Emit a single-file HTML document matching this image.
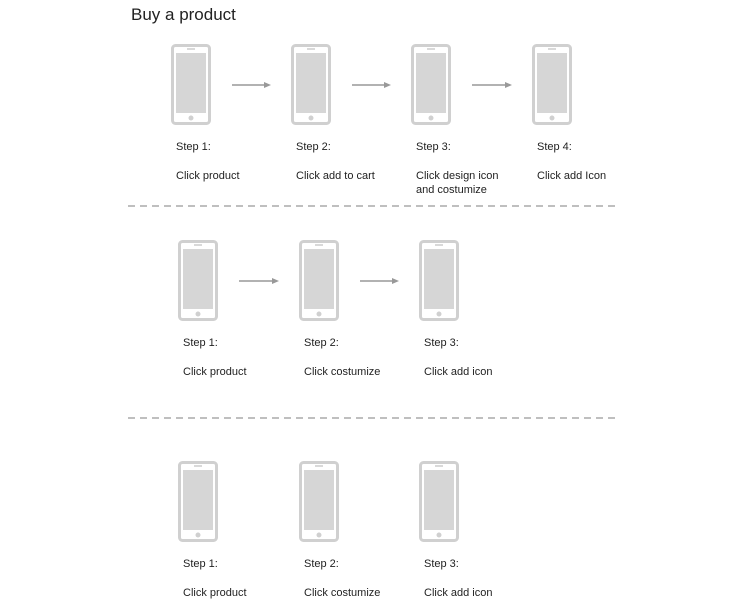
<!DOCTYPE html>
<html><head><meta charset="utf-8"><style>
html,body{margin:0;padding:0;background:#fff;width:750px;height:603px;overflow:hidden}
svg{display:block}
text{font-family:"Liberation Sans","DejaVu Sans",sans-serif;fill:#222}
</style></head><body>
<svg width="750" height="603" viewBox="0 0 750 603">
<text x="131" y="20" font-size="17">Buy a product</text>
<line x1="128" y1="206" x2="615" y2="206" stroke="#999" stroke-width="1.2" stroke-dasharray="7,5"/>
<line x1="128" y1="418" x2="615" y2="418" stroke="#999" stroke-width="1.2" stroke-dasharray="7,5"/>
<g id="g"></g>
</svg>
<script>
const rows=[
 {y:44,phones:[171,291,411,532],arrows:true,labels:[["Step 1:","Click product"],["Step 2:","Click add to cart"],["Step 3:","Click design icon","and costumize"],["Step 4:","Click add Icon"]]},
 {y:240,phones:[178,299,419],arrows:true,labels:[["Step 1:","Click product"],["Step 2:","Click costumize"],["Step 3:","Click add icon"]]},
 {y:461,phones:[178,299,419],arrows:false,labels:[["Step 1:","Click product"],["Step 2:","Click costumize"],["Step 3:","Click add icon"]]}
];
const NS="http://www.w3.org/2000/svg",g=document.getElementById('g');
function mk(t,a,p){const e=document.createElementNS(NS,t);for(const k in a)e.setAttribute(k,a[k]);(p||g).appendChild(e);return e;}
rows.forEach((r,ri)=>{
 r.phones.forEach((x,i)=>{
  const ph=mk('g',{});
  
  
  mk('rect',{x:x+1.5,y:r.y+1.5,width:37,height:78,rx:3,fill:'#fff',stroke:'#d0d0d0','stroke-width':3},ph);
  mk('rect',{x:x+5,y:r.y+9,width:30,height:60,fill:'#d6d6d6'},ph);
  mk('line',{x1:x+16,y1:r.y+5,x2:x+24,y2:r.y+5,stroke:'#ccc','stroke-width':1.5},ph);
  mk('circle',{cx:x+20,cy:r.y+74,r:2.5,fill:'#d0d0d0'},ph);
  if(r.arrows&&i<r.phones.length-1){
   const a=mk('g',{});
   
   
   const ay=r.y+41,x1=x+61,x2=r.phones[i+1]-20;
   mk('line',{x1:x1,y1:ay,x2:x2-6,y2:ay,stroke:'#999','stroke-width':1.5},a);
   mk('polygon',{points:`${x2},${ay} ${x2-7},${ay-3} ${x2-7},${ay+3}`,fill:'#999'},a);
  }
  const L=r.labels[i];
  const t=mk('text',{x:x+5,y:r.y+106,'font-size':11});
  
  
  t.textContent=L[0];
  for(let k=1;k<L.length;k++){
   const d=mk('text',{x:x+5,y:r.y+135+(k-1)*14,'font-size':11});
   
   
   d.textContent=L[k];
  }
 });
});
</script>
</body></html>
